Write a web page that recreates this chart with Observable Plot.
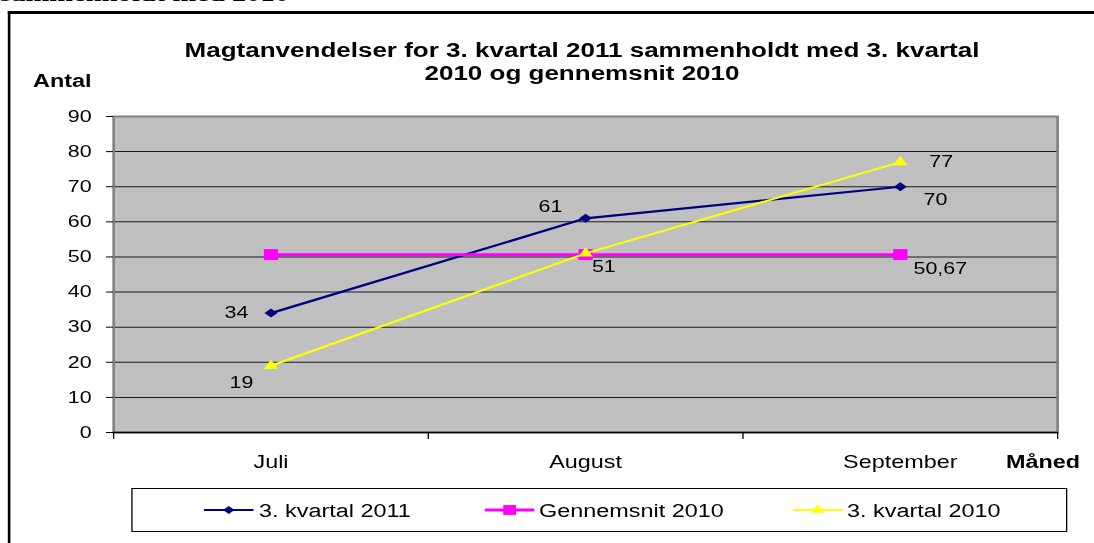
<!DOCTYPE html>
<html><head><meta charset="utf-8">
<script src="https://cdn.jsdelivr.net/npm/d3@7"></script>
<script src="https://cdn.jsdelivr.net/npm/@observablehq/plot@0.6"></script>
<style>
html,body{margin:0;padding:0;background:#fff;}
body{width:1094px;height:543px;overflow:hidden;position:relative;font-family:"Liberation Sans",Arial,sans-serif;color:#000;}
#wrap{position:absolute;left:0;top:0;height:543px;transform-origin:0 0;}
.abs{position:absolute;white-space:nowrap;line-height:1;}
#wrap svg{position:absolute;left:0;top:0;}
</style></head><body><div id="wrap"></div>
<script>
// ---- data ----
const months = ["Juli", "August", "September"];
const kvartal2011 = [34, 61, 70];
const gennemsnit2010 = [50.67, 50.67, 50.67];
const kvartal2010 = [19, 51, 77];
const yTicks = [0, 10, 20, 30, 40, 50, 60, 70, 80, 90];
const seriesNames = ["3. kvartal 2011", "Gennemsnit 2010", "3. kvartal 2010"];
const titleLines = ["Magtanvendelser for 3. kvartal 2011 sammenholdt med 3. kvartal", "2010 og gennemsnit 2010"];
const yAxisTitle = "Antal";
const xAxisTitle = "Måned";
const topFragment = "sammenholdt med 2010";

// ---- layout (the source picture is stretched horizontally) ----
const S = 1.3;
const W = 1094 / S;
const X = v => v / S;
const wrap = document.getElementById("wrap");
wrap.style.width = W + "px";
wrap.style.transform = `scaleX(${S})`;

const diamond = {
  draw(ctx, size) {
    const r = Math.sqrt(size / Math.PI);
    ctx.moveTo(0, -r * 0.9); ctx.lineTo(r, 0); ctx.lineTo(0, r * 0.9); ctx.lineTo(-r, 0); ctx.closePath();
  }
};

const series = [
  {name: seriesNames[0], values: kvartal2011, color: "#000080", width: 2.2, symbol: diamond, r: 5,
   labels: [[-26.5, 0], [-27, -11.3], [27, 13]]},
  {name: seriesNames[1], values: gennemsnit2010, color: "#FF00FF", width: 2.8, symbol: "square", r: 6.2,
   labels: [null, null, [30.8, 14.3]]},
  {name: seriesNames[2], values: kvartal2010, color: "#FFFF00", width: 2, symbol: "triangle", r: 4.1,
   labels: [[-22.7, 16.5], [14, 13.6], [31.5, 0]]}
];

const fmt = v => String(v).replace(".", ",");
const boundaries = d3.range(months.length + 1);
const centers = months.map((m, i) => i + 0.5);

const marks = [
  Plot.frame({fill: "#C0C0C0"}),
  Plot.gridY(yTicks.slice(1, -1), {stroke: "#1a1a1a", strokeOpacity: 1, strokeWidth: 1}),
  Plot.frame({stroke: "#808080", strokeWidth: 2}),
  Plot.ruleY([0], {stroke: "#000", strokeWidth: 1.3}),
  Plot.axisY({ticks: yTicks, tickSize: 5.4, tickPadding: 11.5, fontSize: 16.5, label: null}),
  Plot.axisX({ticks: boundaries, tickSize: 7, tickFormat: () => "", label: null}),
  Plot.axisX({ticks: centers, tickSize: 0, tickPadding: 23, fontSize: 18, label: null, tickFormat: d => months[Math.floor(d)]})
];

for (const s of series) {
  const rows = s.values.map((v, i) => ({x: i + 0.5, y: v, label: fmt(v)}));
  marks.push(Plot.line(rows, {x: "x", y: "y", stroke: s.color, strokeWidth: s.width}));
  marks.push(Plot.dot(rows, {x: "x", y: "y", symbol: s.symbol, r: s.r, fill: s.color, stroke: "none"}));
  s.labels.forEach((off, i) => {
    if (!off) return;
    marks.push(Plot.text([rows[i]], {x: "x", y: "y", text: "label", dx: off[0], dy: off[1], fontSize: 16.5, fill: "#000"}));
  });
}

const chart = Plot.plot({
  width: W,
  height: 543,
  marginLeft: X(113),
  marginRight: W - X(1057),
  marginTop: 116,
  marginBottom: 543 - 432,
  x: {domain: [0, months.length], axis: null, label: null},
  y: {domain: [0, 90], axis: null, label: null},
  style: {fontFamily: "Liberation Sans, Arial, sans-serif", fontSize: "15px", background: "transparent", overflow: "visible", color: "#000"},
  marks
});
wrap.appendChild(chart);

// ---- overlay texts, frame and legend ----
function addText(txt, {left, baseline, size, weight = "normal", family, align, width}) {
  const d = document.createElement("div");
  d.className = "abs";
  d.textContent = txt;
  d.style.fontSize = size + "px";
  d.style.fontWeight = weight;
  if (family) d.style.fontFamily = family;
  d.style.top = (baseline - 0.847 * size) + "px";
  d.style.left = left + "px";
  if (align) { d.style.textAlign = align; d.style.width = width + "px"; }
  wrap.appendChild(d);
  return d;
}

const frame = document.createElement("div");
frame.className = "abs";
Object.assign(frame.style, {left: X(8) + "px", top: "11px", width: "2000px", height: "1000px",
  borderTop: "3px solid #000", borderLeft: (3.2 / S) + "px solid #000", boxSizing: "border-box"});
wrap.appendChild(frame);

addText(topFragment, {left: 0, baseline: 1.5, size: 22, weight: "bold", family: "'Liberation Serif', 'Times New Roman', serif"});
addText(titleLines[0], {left: X(582) - 400, baseline: 56.7, size: 20, weight: "bold", align: "center", width: 800});
addText(titleLines[1], {left: X(582) - 400, baseline: 79.5, size: 20, weight: "bold", align: "center", width: 800});
addText(yAxisTitle, {left: X(33), baseline: 87, size: 18, weight: "bold"});
addText(xAxisTitle, {left: X(1006), baseline: 468, size: 18, weight: "bold"});

const box = document.createElement("div");
box.className = "abs";
Object.assign(box.style, {left: X(131) + "px", top: "488px", width: (X(1067) - X(131)) + "px", height: "44px",
  border: "1px solid #000", boxSizing: "border-box", background: "#fff"});
wrap.appendChild(box);

const legendLineStart = [204, 485, 793];
const legendTextStart = [259, 539, 847];
series.forEach((s, k) => {
  const sw = 38;
  const svg = d3.create("svg").attr("width", sw).attr("height", 16)
    .style("left", X(legendLineStart[k]) + "px").style("top", "502px").style("overflow", "visible");
  svg.append("line").attr("x1", 0).attr("x2", sw).attr("y1", 8).attr("y2", 8)
    .attr("stroke", s.color).attr("stroke-width", s.width);
  const sym = typeof s.symbol === "string" ? d3.symbolsFill[["circle","cross","diamond","square","star","triangle","wye"].indexOf(s.symbol)] : s.symbol;
  svg.append("path").attr("transform", `translate(${sw / 2},8)`)
    .attr("d", d3.symbol(sym, s.r * s.r * Math.PI * 0.8)()).attr("fill", s.color);
  wrap.appendChild(svg.node());
  addText(s.name, {left: X(legendTextStart[k]), baseline: 517, size: 18});
});
</script>
</body></html>
